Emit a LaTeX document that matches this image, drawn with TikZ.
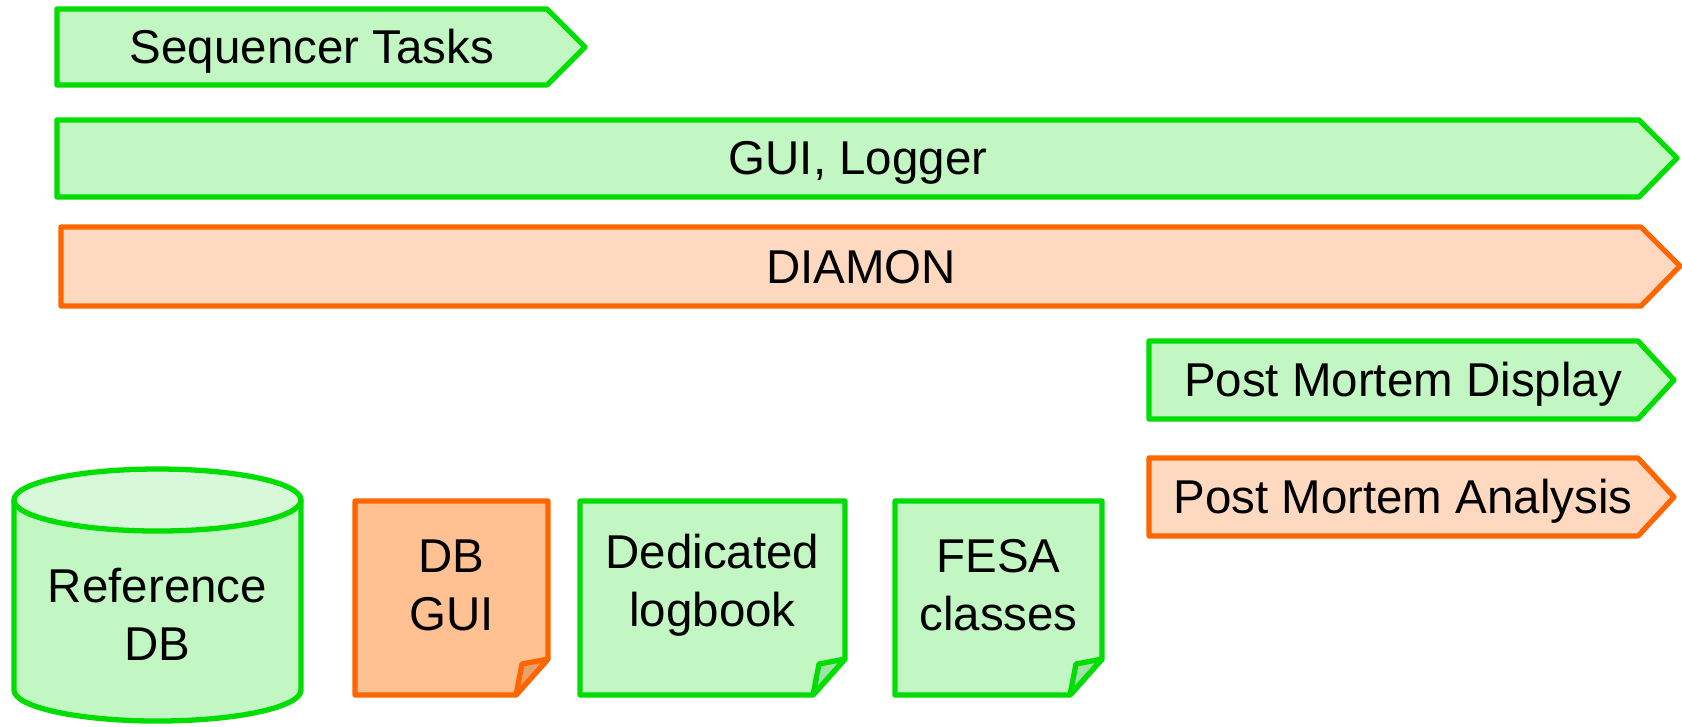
\documentclass[tikz,border=0pt]{standalone}
\usepackage{fontspec}
\setmainfont{Liberation Sans}
\definecolor{LineGreen}{RGB}{0,221,0}
\definecolor{FillGreen}{RGB}{194,247,196}
\definecolor{TopGreen}{RGB}{216,248,218}
\definecolor{FlapGreen}{RGB}{158,226,168}
\definecolor{LineOrange}{RGB}{255,102,0}
\definecolor{FillOrange}{RGB}{254,217,192}
\definecolor{NoteOrange}{RGB}{255,192,146}
\definecolor{FlapOrange}{RGB}{236,160,112}
\tikzset{
  greenbar/.style={draw=LineGreen,fill=FillGreen,line width=1.5pt,line join=round},
  orangebar/.style={draw=LineOrange,fill=FillOrange,line width=1.5pt,line join=round},
  greennote/.style={draw=LineGreen,fill=FillGreen,line width=1.5pt,line join=round},
  orangenote/.style={draw=LineOrange,fill=NoteOrange,line width=1.5pt,line join=round},
  greenflap/.style={draw=LineGreen,fill=FlapGreen,line width=1.5pt,line join=round},
  orangeflap/.style={draw=LineOrange,fill=FlapOrange,line width=1.5pt,line join=round},
  dbtop/.style={draw=LineGreen,fill=TopGreen,line width=1.5pt},
  bartext/.style={inner sep=0pt,text height=0.72em,text depth=0pt,
    font=\fontsize{13.5pt}{16.5pt}\selectfont},
  notetext/.style={inner sep=0pt,align=center,
    font=\fontsize{13.5pt}{16.5pt}\selectfont},
}
\begin{document}
\begin{tikzpicture}[x=0.01cm,y=-0.01cm]
  \useasboundingbox (0,0) rectangle (1682,726);
  % task bars
  \draw[greenbar] (57,9) -- (547,9) -- (585,47) -- (547,85) -- (57,85) -- cycle;
  \node[bartext] (seq) at (312,51) {Sequencer Tasks};
  \draw[greenbar] (57,120) -- (1639,120) -- (1677,158) -- (1639,197) -- (57,197) -- cycle;
  \node[bartext] (gui) at (858,162) {GUI, Logger};
  \draw[orangebar] (61,227) -- (1641,227) -- (1680,266) -- (1641,306) -- (61,306) -- cycle;
  \node[bartext] (diamon) at (861,271) {DIAMON};
  \draw[greenbar] (1149,341) -- (1638,341) -- (1674,380) -- (1638,419) -- (1149,419) -- cycle;
  \node[bartext] (pmd) at (1403,384) {Post Mortem Display};
  \draw[orangebar] (1149,458) -- (1638,458) -- (1674,497) -- (1638,536) -- (1149,536) -- cycle;
  \node[bartext] (pma) at (1403,501) {Post Mortem Analysis};
  % database
  \draw[greennote] (14,500) -- (14,690) arc[start angle=180,end angle=0,x radius=143.5,y radius=31] -- (301,500);
  \draw[dbtop] (157.5,500) ellipse[x radius=143.5,y radius=31];
  \node[notetext] (refdb) at (157.5,614) {Reference\\DB};
  % notes
  \draw[orangenote] (355,501) -- (548,501) -- (548,659) -- (516,695) -- (355,695) -- cycle;
  \draw[orangeflap] (548,659) -- (522,664) -- (516,695) -- cycle;
  \node[notetext] (dbgui) at (451.5,585) {DB\\GUI};
  \draw[greennote] (580,501) -- (845,501) -- (845,659) -- (813,695) -- (580,695) -- cycle;
  \draw[greenflap] (845,659) -- (819,664) -- (813,695) -- cycle;
  \node[notetext] (logbook) at (712.5,585) {Dedicated\\logbook};
  \draw[greennote] (895,501) -- (1102,501) -- (1102,659) -- (1070,695) -- (895,695) -- cycle;
  \draw[greenflap] (1102,659) -- (1076,664) -- (1070,695) -- cycle;
  \node[notetext] (fesa) at (998.5,585) {FESA\\classes};
\end{tikzpicture}
\end{document}
